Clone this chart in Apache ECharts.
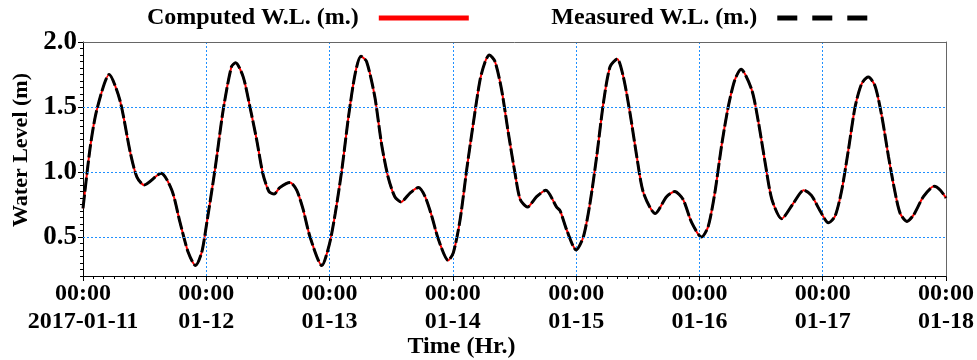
<!doctype html>
<html>
<head>
    <meta charset="utf-8">
    <title>Water Level</title>
    <script src="https://cdn.jsdelivr.net/npm/echarts@6/dist/echarts.min.js"></script>
    <style>
        html, body { margin: 0; padding: 0; background: #fff; }
        #main { width: 977px; height: 360px; }
    </style>
</head>
<body>
<div id="main"></div>
<script type="text/javascript">
    // time in hours from 2017-01-11 00:00
    var hours = [0, 1.4, 2.7, 5.1, 7.2, 9.2, 10.5, 11.9, 15.2, 17.3, 18.9, 20.5, 21.9, 23.1, 24.1, 25.7, 27.3, 28.9, 29.7,
        31.2, 32.5, 33.8, 35.0, 36.2, 37.2, 38.3, 40.3, 41.6, 42.8, 44.2, 46.5, 48.0, 49.1, 50.4, 51.7, 53.0, 54.1,
        55.2, 56.8, 58.1, 59.4, 60.7, 61.9, 63.7, 65.3, 66.6, 67.9, 69.2, 71.1, 72.1, 73.4, 74.7, 76.0, 77.3, 78.3,
        79.1, 80.2, 81.5, 82.8, 84.1, 85.1, 86.5, 88.3, 90.1, 92.2, 92.9, 94.2, 96.0, 97.4, 98.7, 100.0, 101.3, 102.6,
        104.0, 105.2, 106.5, 107.8, 109.1, 111.4, 113.6, 115.2, 116.8, 118.5, 120.4, 121.7, 123.0, 124.3, 125.6, 126.9,
        128.1, 130.2, 131.5, 132.8, 134.1, 136.0, 138.3, 140.3, 141.8, 143.5, 145.1, 146.4, 147.7, 149.0, 150.3, 151.6,
        152.9, 154.2, 155.5, 156.8, 158.1, 159.1, 160.4, 161.7, 163.6, 165.7, 166.9, 168.0];
    // computed water level (m)
    var computedWL = [0.72, 1.19, 1.48, 1.75, 1.55, 1.15, 0.96, 0.90, 0.99, 0.86, 0.61, 0.38, 0.28, 0.38, 0.61, 1.02, 1.48, 1.81, 1.84,
        1.73, 1.50, 1.25, 0.99, 0.85, 0.83, 0.88, 0.92, 0.86, 0.72, 0.50, 0.28, 0.45, 0.68, 1.02, 1.43, 1.76, 1.89,
        1.85, 1.58, 1.22, 0.96, 0.81, 0.77, 0.84, 0.88, 0.81, 0.66, 0.48, 0.32, 0.38, 0.63, 1.02, 1.38, 1.71, 1.85,
        1.90, 1.85, 1.63, 1.30, 0.99, 0.79, 0.73, 0.81, 0.86, 0.73, 0.70, 0.55, 0.40, 0.50, 0.76, 1.12, 1.53, 1.81,
        1.87, 1.73, 1.45, 1.12, 0.84, 0.68, 0.81, 0.85, 0.79, 0.61, 0.50, 0.58, 0.84, 1.20, 1.50, 1.71,
        1.79, 1.63, 1.38, 1.07, 0.79, 0.64, 0.76, 0.86, 0.82, 0.70, 0.61, 0.66, 0.86, 1.17, 1.50, 1.68,
        1.73, 1.66, 1.43, 1.12, 0.84, 0.68, 0.62, 0.67, 0.81, 0.89, 0.86, 0.80];
    // measured water level (m) - sits on top of the computed curve
    var measuredWL = [0.72, 1.19, 1.48, 1.75, 1.55, 1.15, 0.96, 0.90, 0.99, 0.86, 0.61, 0.38, 0.28, 0.38, 0.61, 1.02, 1.48, 1.81, 1.84,
        1.73, 1.50, 1.25, 0.99, 0.85, 0.83, 0.88, 0.92, 0.86, 0.72, 0.50, 0.28, 0.45, 0.68, 1.02, 1.43, 1.76, 1.89,
        1.85, 1.58, 1.22, 0.96, 0.81, 0.77, 0.84, 0.88, 0.81, 0.66, 0.48, 0.32, 0.38, 0.63, 1.02, 1.38, 1.71, 1.85,
        1.90, 1.85, 1.63, 1.30, 0.99, 0.79, 0.73, 0.81, 0.86, 0.73, 0.70, 0.55, 0.40, 0.50, 0.76, 1.12, 1.53, 1.81,
        1.87, 1.73, 1.45, 1.12, 0.84, 0.68, 0.81, 0.85, 0.79, 0.61, 0.50, 0.58, 0.84, 1.20, 1.50, 1.71,
        1.79, 1.63, 1.38, 1.07, 0.79, 0.64, 0.76, 0.86, 0.82, 0.70, 0.61, 0.66, 0.86, 1.17, 1.50, 1.68,
        1.73, 1.66, 1.43, 1.12, 0.84, 0.68, 0.62, 0.67, 0.81, 0.89, 0.86, 0.80];
    // x tick labels (one per day)
    var dayLabels = ['2017-01-11', '01-12', '01-13', '01-14', '01-15', '01-16', '01-17', '01-18'];
    var yTicks = [0.5, 1.0, 1.5, 2.0];
    var yGrid = [0.5, 1.0, 1.5];

    var font = "'Liberation Serif', 'Times New Roman', serif";
    var gridBlue = '#1e8fff';

    var computedData = hours.map(function (h, i) { return [h, computedWL[i]]; });
    var measuredData = hours.map(function (h, i) { return [h, measuredWL[i]]; });

    var myChart = echarts.init(document.getElementById('main'));

    var option = {
        animation: false,
        textStyle: { fontFamily: font, fontWeight: 'bold', color: '#000' },
        legend: {
            left: 147,
            top: 6,
            padding: 0,
            align: 'right',
            itemWidth: 90,
            itemHeight: 14,
            itemGap: 80,
            textStyle: { fontFamily: font, fontWeight: 'bold', fontSize: 24, color: '#000', padding: [0, 15, 0, 0] },
            data: [
                { name: 'Computed W.L. (m.)', itemStyle: { opacity: 0 }, lineStyle: { color: '#ff0000', width: 5, type: 'solid' } },
                { name: 'Measured W.L. (m.)', itemStyle: { opacity: 0 }, lineStyle: { color: '#000', width: 5, type: [20, 15] } }
            ]
        },
        grid: { left: 83, right: 31, top: 42, bottom: 84, outerBoundsMode: 'none', containLabel: false },
        xAxis: [{
            type: 'value',
            min: 0,
            max: 168,
            interval: 24,
            name: 'Time (Hr.)',
            nameLocation: 'middle',
            nameGap: 59,
            nameMoveOverlap: false,
            nameTextStyle: { fontFamily: font, fontWeight: 'bold', fontSize: 24, color: '#000', padding: [0, 106, 0, 0] },
            axisLine: { lineStyle: { color: '#000', width: 1 } },
            axisTick: { length: 5, lineStyle: { color: '#000' } },
            minorTick: { show: true, splitNumber: 12, length: 3, lineStyle: { color: '#000' } },
            axisLabel: {
                margin: 4,
                fontFamily: font, fontWeight: 'bold', fontSize: 24, color: '#000', lineHeight: 28,
                formatter: function (v) { return '00:00\n' + dayLabels[Math.round(v / 24)]; }
            },
            splitLine: { show: true, lineStyle: { color: gridBlue, type: [2, 2], width: 1 } }
        }, {
            // top frame
            type: 'value', position: 'top', min: 0, max: 168, z: 2,
            axisLine: { lineStyle: { color: '#666' } },
            axisTick: { show: false }, axisLabel: { show: false }, splitLine: { show: false }
        }],
        yAxis: [{
            type: 'value',
            min: 0.2,
            max: 2.0,
            z: 2,
            name: 'Water Level (m)',
            nameLocation: 'middle',
            nameGap: 49,
            nameTextStyle: { fontFamily: font, fontWeight: 'bold', fontSize: 22, color: '#000', padding: [0, 0, 0, 18] },
            axisLine: { show: true, lineStyle: { color: '#000', width: 1 } },
            axisTick: { show: true, length: 5, customValues: yTicks, lineStyle: { color: '#000' } },
            axisLabel: {
                margin: 6, customValues: yTicks,
                fontFamily: font, fontWeight: 'bold', fontSize: 27, color: '#000',
                formatter: function (v) { return v.toFixed(1); }
            },
            splitLine: { show: false }
        }, {
            // minor ticks on the left
            type: 'value', position: 'left', min: 0.2, max: 2.0, interval: 0.05, z: 2,
            axisLine: { show: false },
            axisTick: { show: true, length: 3, lineStyle: { color: '#000' } },
            axisLabel: { show: false }, splitLine: { show: false }
        }, {
            // right frame
            type: 'value', position: 'right', min: 0.2, max: 2.0, z: 2,
            axisLine: { show: true, lineStyle: { color: '#666' } },
            axisTick: { show: false }, axisLabel: { show: false }, splitLine: { show: false }
        }],
        series: [{
            // horizontal grid lines
            type: 'line',
            data: [],
            z: 1,
            silent: true,
            markLine: {
                silent: true,
                symbol: 'none',
                label: { show: false },
                lineStyle: { color: gridBlue, type: [2, 2], width: 1 },
                data: yGrid.map(function (v) { return { yAxis: v }; })
            }
        }, {
            name: 'Computed W.L. (m.)',
            type: 'line',
            symbol: 'none',
            smooth: 0.25,
            z: 3,
            lineStyle: { color: '#ff0000', width: 2 },
            itemStyle: { color: '#ff0000' },
            data: computedData
        }, {
            name: 'Measured W.L. (m.)',
            type: 'line',
            symbol: 'none',
            smooth: 0.25,
            z: 4,
            lineStyle: { color: '#000', width: 3, type: [14, 3] },
            itemStyle: { color: '#000' },
            data: measuredData
        }]
    };

    myChart.setOption(option);
</script>
</body>
</html>
